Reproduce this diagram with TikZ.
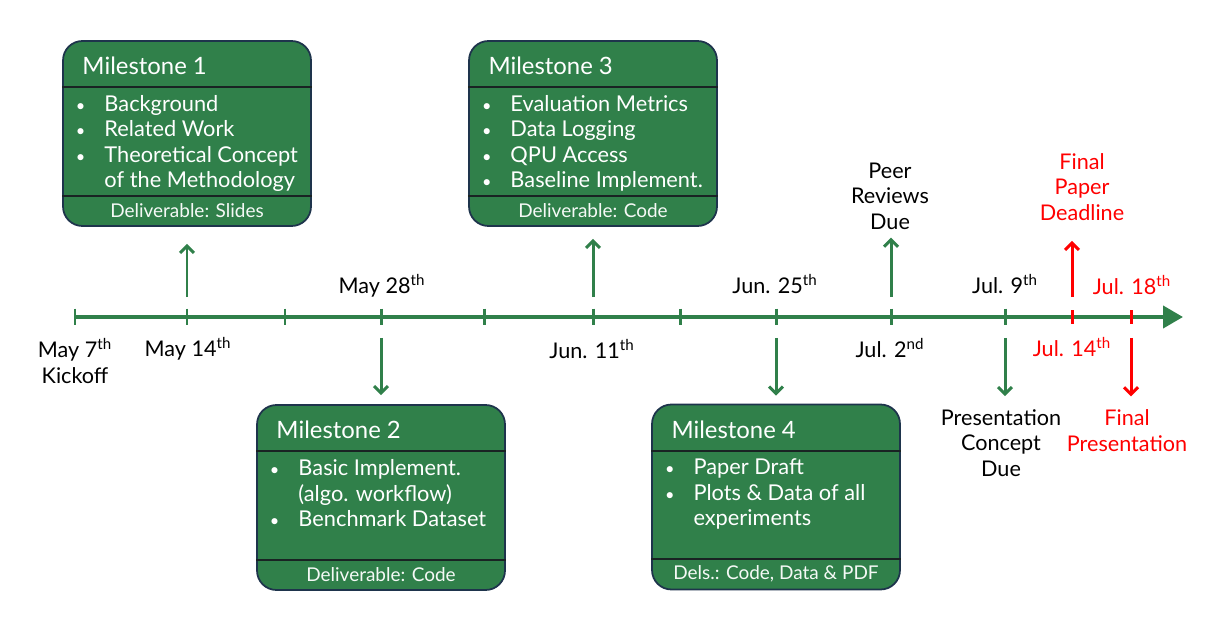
\documentclass[tikz,border=0pt]{standalone}
\usepackage{fontspec}
\setmainfont{Lato}
\usetikzlibrary{arrows.meta,positioning}
\definecolor{leaf}{RGB}{48,128,74}
\definecolor{navy}{RGB}{30,52,76}
\definecolor{sepline}{RGB}{25,35,35}
\definecolor{alert}{RGB}{255,0,0}
\tikzset{
  >={Straight Barb[length=1.4mm,width=2.8mm]},
  mbox/.style={draw=navy,fill=leaf,rounded corners=11pt,line width=1pt,
    minimum width=4.96cm,minimum height=3.7cm},
  mtitle/.style={anchor=west,text=white,font=\fontsize{13.6}{15}\selectfont,inner sep=0pt},
  mlist/.style={anchor=north west,text=white,align=left,
    font=\fontsize{12.4}{14.5}\selectfont,inner sep=0pt},
  mdel/.style={text=white!95!leaf,font=\fontsize{10.8}{12}\selectfont,inner sep=0pt},
  msep/.style={draw=sepline,line width=1pt},
  flow/.style={->,line width=1.7pt,draw=#1,shorten <=0.4cm},
  flow/.default=leaf,
  tag/.style={font=\fontsize{12.3}{14.5}\selectfont,align=center,text=#1,inner sep=0pt},
  tag/.default=black,
  axis/.style={line width=2.3pt,draw=leaf,-{Triangle[length=4mm,width=4.4mm]}},
  tickmark/.style={line width=1.7pt,draw=#1},
  tickmark/.default=leaf,
}
\newcommand\bul{\makebox[0.6cm][l]{\hspace{0.03cm}\scalebox{0.75}{\textbullet}}}
\newcommand\cnt{\hspace*{0.6cm}}
% box with title, items and deliverable
\newcommand\milestone[5]{%
  \node[mbox] (#1) at (#2) {};
  \draw[msep] ([yshift=-0.94cm]#1.north west) -- ([yshift=-0.94cm]#1.north east);
  \draw[msep] ([yshift=0.62cm]#1.south west) -- ([yshift=0.62cm]#1.south east);
  \node[mtitle] (#1-title) at ([xshift=0.4cm,yshift=-0.52cm]#1.north west) {#3};
  \node[mlist] (#1-list) at ([xshift=0.24cm,yshift=-1.1cm]#1.north west) {#4};
  \node[mdel] (#1-del) at ([yshift=0.33cm]#1.south) {#5};
}

\begin{document}
\begin{tikzpicture}[x=0.02cm,y=-0.02cm]
  \useasboundingbox (0,0) rectangle (1226,631);

  % dates on the time line
  \foreach \n/\x in {may7/75,may14/187,may21/285,may28/381,jun4/484,jun11/593,
    jun18/680,jun25/776,jul2/891,jul9/1005,jul14/1072,jul18/1131}
    \coordinate (\n) at (\x,317);
  \coordinate (tlend) at (1183,317);

  \draw[axis] (may7) -- (tlend);
  \foreach \d in {may7,may14,may21,may28,jun4,jun11,jun18,jun25,jul2,jul9}
    \draw[tickmark] ([yshift=0.17cm]\d) -- ([yshift=-0.17cm]\d);
  \foreach \d in {jul14,jul18}
    \draw[tickmark=alert] ([yshift=0.14cm]\d) -- ([yshift=-0.14cm]\d);

  % milestones
  \milestone{m1}{187,133.5}{Milestone 1}
    {\bul Background\\\bul Related Work\\\bul Theoretical Concept\\\cnt of the Methodology}
    {Deliverable: Slides}
  \milestone{m3}{593,133.5}{Milestone 3}
    {\bul Evaluation Metrics\\\bul Data Logging\\\bul QPU Access\\\bul Baseline Implement.}
    {Deliverable: Code}
  \milestone{m2}{381,497.5}{Milestone 2}
    {\bul Basic Implement.\\\cnt (algo. workflow)\\\bul Benchmark Dataset}
    {Deliverable: Code}
  \milestone{m4}{776,497}{Milestone 4}
    {\bul Paper Draft\\\bul Plots \& Data of all\\\cnt experiments}
    {Dels.: Code, Data \& PDF}

  % date labels
  \node[tag] (lmay7) at (75,361) {May 7\textsuperscript{th}\\Kickoff};
  \node[tag] (lmay14) at (188,349) {May 14\textsuperscript{th}};
  \node[tag] (lmay28) at (382,286) {May 28\textsuperscript{th}};
  \node[tag] (ljun11) at (592,349) {Jun. 11\textsuperscript{th}};
  \node[tag] (ljun25) at (775,284) {Jun. 25\textsuperscript{th}};
  \node[tag] (ljul2) at (890,348) {Jul. 2\textsuperscript{nd}};
  \node[tag] (ljul9) at (1005,284) {Jul. 9\textsuperscript{th}};
  \node[tag=alert] (ljul14) at (1072,347) {Jul. 14\textsuperscript{th}};
  \node[tag=alert] (ljul18) at (1132,285) {Jul. 18\textsuperscript{th}};

  % events
  \node[tag] (peer) at (890,196) {Peer\\Reviews\\Due};
  \node[tag] (pconcept) at (1001,443) {Presentation\\Concept\\Due};
  \node[tag=alert] (fpaper) at (1082,187) {Final\\Paper\\Deadline};
  \node[tag=alert] (fpres) at (1127,430.5) {Final\\Presentation};

  \draw[flow,shorten >=0.34cm] (may14) -- (m1);
  \draw[flow,shorten >=0.24cm] (jun11) -- (m3);
  \draw[flow,shorten <=0.42cm,shorten >=0.18cm] (may28) -- (m2);
  \draw[flow,shorten <=0.42cm,shorten >=0.16cm] (jun25) -- (m4);
  \draw[flow,shorten >=0.16cm] (jul2) -- (peer.south -| jul2);
  \draw[flow,shorten <=0.42cm,shorten >=0.26cm] (jul9) -- (pconcept.north -| jul9);
  \draw[flow=alert,shorten >=0.4cm] (jul14) -- (fpaper.south -| jul14);
  \draw[flow=alert,shorten <=0.42cm,shorten >=0.26cm] (jul18) -- (fpres.north -| jul18);
\end{tikzpicture}
\end{document}
